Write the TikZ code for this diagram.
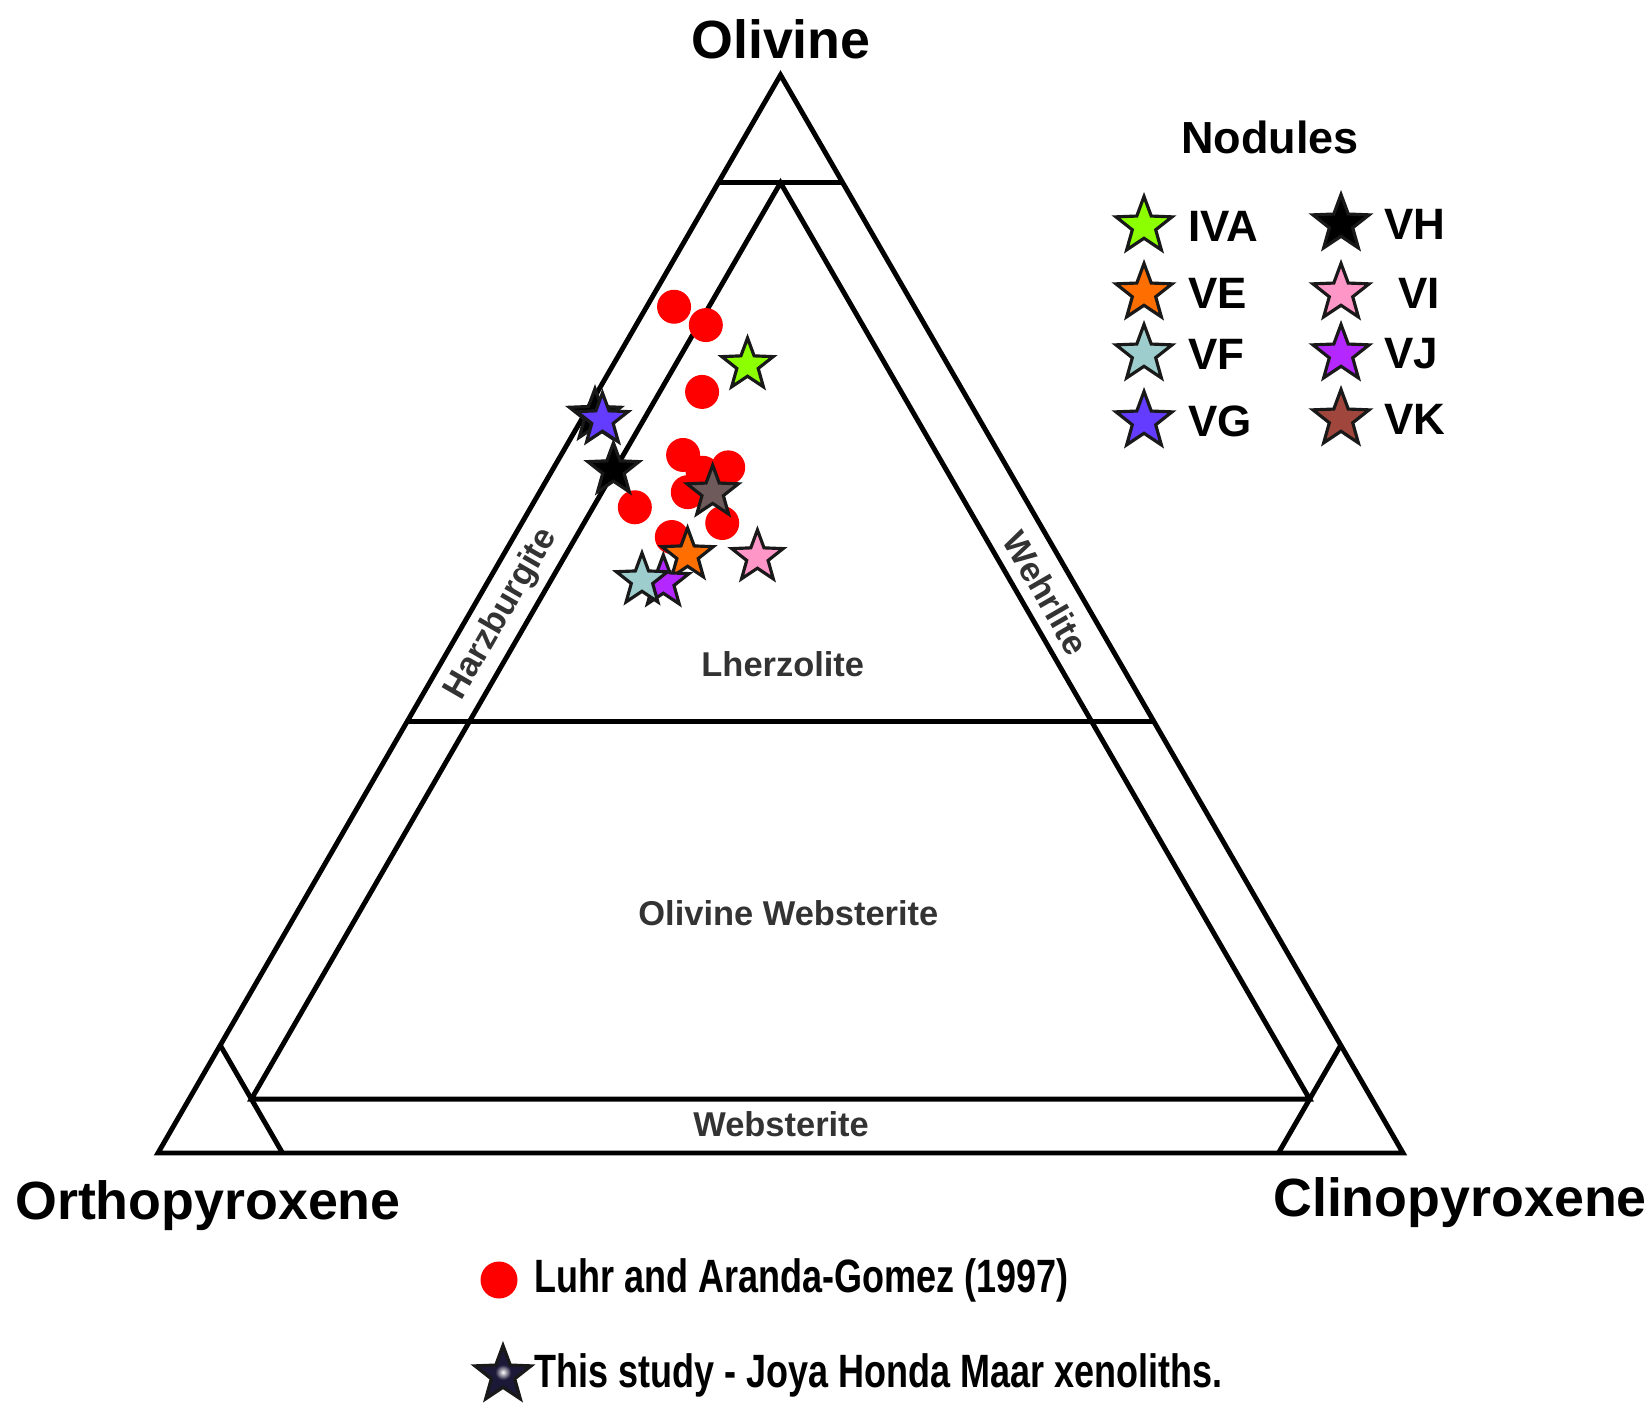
\documentclass[tikz,border=0pt]{standalone}
\usepackage{fontspec}
\setmainfont{Liberation Sans}
\usepackage{xcolor}
\usepackage{graphicx}
\usepackage{tikz}
\usetikzlibrary{shapes.geometric, positioning}

\definecolor{ivacol}{RGB}{140,255,0}
\definecolor{vecol}{RGB}{255,110,0}
\definecolor{vfcol}{RGB}{158,205,205}
\definecolor{vgcol}{RGB}{100,60,255}
\definecolor{vhcol}{RGB}{0,0,0}
\definecolor{vicol}{RGB}{255,150,200}
\definecolor{vjcol}{RGB}{180,40,255}
\definecolor{vkcol}{RGB}{160,70,60}
\definecolor{vkplot}{RGB}{110,90,90}
\definecolor{studycol}{RGB}{28,24,56}

\pgfdeclareradialshading{starglow}{\pgfpoint{0bp}{0bp}}{color(0bp)=(white); color(7bp)=(studycol); color(50bp)=(studycol)}

\newcommand{\squeezed}[1]{\scalebox{0.77}[1]{#1}}

\begin{document}
\begin{tikzpicture}[
  tri/.style={line width=1.4pt},
  zone/.style={font=\fontsize{9.8}{11}\selectfont\bfseries, text=black!80},
  corner/.style={font=\fontsize{15.3}{18}\selectfont\bfseries},
  legtext/.style={font=\fontsize{12.5}{14}\selectfont\bfseries},
  reftext/.style={font=\fontsize{13.3}{15}\selectfont\bfseries},
  reddot/.style={circle, fill=red, inner sep=0pt, minimum size=0.34cm},
  nod/.style={star, star points=5, star point ratio=2.4, draw=black!90, line width=0.9pt, inner sep=0pt, minimum size=0.54cm, fill=#1},
  bignod/.style={nod=#1, minimum size=0.59cm}
]
\useasboundingbox (0,0) rectangle (16.52,14.03);

% --- ternary frame: x = Cpx fraction, y = Ol fraction ---
\begin{scope}[shift={(1.58cm,2.50cm)}, x={(12.45cm,0cm)}, y={(6.225cm,10.78cm)}]
\coordinate (opx) at (0,0);
\coordinate (cpx) at (1,0);
\coordinate (ol) at (0,1);
% olivine cut-offs at 90 and 40
\coordinate (ol90l) at (0,0.9);
\coordinate (ol90r) at (0.1,0.9);
\coordinate (ol40l) at (0,0.4);
\coordinate (ol40r) at (0.6,0.4);
% inner triangle of the 5 per cent lines
\coordinate (inTop) at (0.05,0.9);
\coordinate (inL) at (0.05,0.05);
\coordinate (inR) at (0.9,0.05);
% pyroxenite corners at 90
\coordinate (opxA) at (0,0.1);
\coordinate (opxB) at (0.1,0);
\coordinate (cpxA) at (0.9,0.1);
\coordinate (cpxB) at (0.9,0);

\draw[tri] (opx) -- (cpx) -- (ol) -- cycle;
\draw[tri] (ol90l) -- (ol90r);
\draw[tri] (ol40l) -- (ol40r);
\draw[tri] (inTop) -- (inL) -- (inR) -- cycle;
\draw[tri] (opxA) -- (opxB);
\draw[tri] (cpxA) -- (cpxB);

% field names
\node[zone, rotate=60] (harz) at (0.026,0.5) {Harzburgite};
\node[zone, rotate=-60] (wehr) at (0.4535,0.5195) {Wehrlite};
\node[zone] (lherz) at (0.275,0.4536) {Lherzolite};
\node[zone] (olweb) at (0.395,0.2226) {Olivine Websterite};
\node[zone] (webs) at (0.487,0.027) {Websterite};

% --- Luhr and Aranda-Gomez data ---
\foreach \c/\o [count=\i] in {0.022/0.785, 0.056/0.768, 0.084/0.706, 0.098/0.6475, 0.140/0.636,
    0.122/0.631, 0.119/0.613, 0.0835/0.599, 0.161/0.5844, 0.127/0.5714}
  \node[reddot] (lag\i) at (\c,\o) {};

% --- nodules of this study ---
\node[nod=ivacol] (pIVA) at (0.108,0.731) {};
\node[nod=vhcol] (pVHb) at (0.009,0.684) {};
\node[nod=vgcol] (pVG) at (0.017,0.680) {};
\node[nod=vhcol] (pVH) at (0.049,0.6336) {};
\node[nod=vkplot] (pVK) at (0.139,0.613) {};
\node[nod=vecol] (pVE) at (0.148,0.5547) {};
\node[nod=vicol] (pVI) at (0.205,0.5529) {};
\node[nod=vjcol] (pVJ) at (0.141,0.5297) {};
\node[nod=vfcol] (pVF) at (0.123,0.5315) {};
\end{scope}

% --- end members ---
\node[corner] (olname) at (7.81,13.64) {Olivine};
\node[corner] (opxname) at (2.08,1.97) {Orthopyroxene};
\node[corner] (cpxname) at (14.60,2.00) {Clinopyroxene};

% --- nodule legend ---
\node[legtext, font=\fontsize{12.8}{15}\selectfont\bfseries] (nodtitle) at (12.70,12.66) {Nodules};
\node[bignod=ivacol] (lIVA) at (11.44,11.77) {};
\node[bignod=vecol] (lVE) at (11.44,11.10) {};
\node[bignod=vfcol] (lVF) at (11.44,10.49) {};
\node[bignod=vgcol] (lVG) at (11.44,9.82) {};
\node[bignod=vhcol] (lVH) at (13.41,11.79) {};
\node[bignod=vicol] (lVI) at (13.41,11.10) {};
\node[bignod=vjcol] (lVJ) at (13.41,10.49) {};
\node[bignod=vkcol] (lVK) at (13.41,9.84) {};
\node[legtext, right=0.13cm of lIVA] (tIVA) {IVA};
\node[legtext, right=0.13cm of lVE] (tVE) {VE};
\node[legtext, right=0.13cm of lVF] (tVF) {VF};
\node[legtext, right=0.13cm of lVG] (tVG) {VG};
\node[legtext, right=0.12cm of lVH] (tVH) {VH};
\node[legtext, right=0.26cm of lVI] (tVI) {VI};
\node[legtext, right=0.12cm of lVJ] (tVJ) {VJ};
\node[legtext, right=0.12cm of lVK] (tVK) {VK};

% --- source legend ---
\node[reddot, minimum size=0.37cm] (keyLAG) at (4.99,1.23) {};
\node[reftext, right=0.04cm of keyLAG] (txtLAG) {\squeezed{Luhr and Aranda-Gomez (1997)}};
\node[bignod=studycol, shading=starglow] (keyStudy) at (5.03,0.28) {};
\node[reftext, right=0.0cm of keyStudy] (txtStudy) {\squeezed{This study - Joya Honda Maar xenoliths.}};
\end{tikzpicture}
\end{document}
